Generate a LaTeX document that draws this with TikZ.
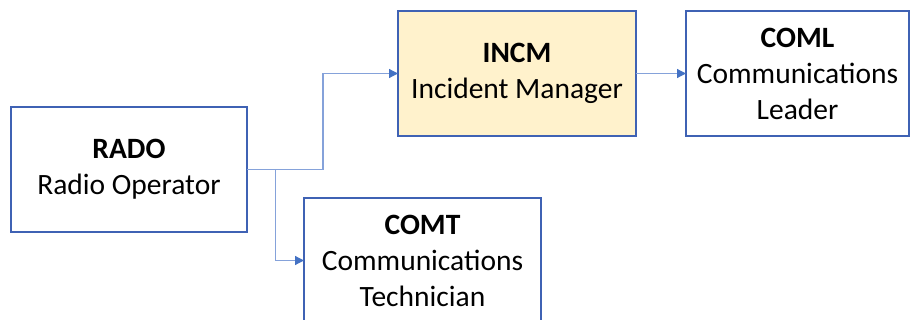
\documentclass[tikz,border=0pt]{standalone}
\usepackage{fontspec}
\setmainfont{Carlito}
\usetikzlibrary{arrows.meta}

\definecolor{boxline}{HTML}{3F62B4}
\definecolor{wireline}{HTML}{85A2DA}
\definecolor{tipfill}{HTML}{4472C4}
\definecolor{leadfill}{HTML}{FFF2CC}

\tikzset{
  rolebox/.style={draw=boxline, line width=1.3pt, fill=white, rectangle,
    minimum height=125pt, inner sep=0pt, outer sep=0pt, align=center,
    font=\fontsize{29.5}{36}\selectfont},
  wire/.style={draw=wireline, line width=1.2pt,
    -{Triangle[length=9pt, width=9pt, fill=tipfill, color=tipfill]}},
  plainwire/.style={draw=wireline, line width=1.2pt}
}

\begin{document}
\begin{tikzpicture}[x=1pt, y=-1pt]
  \useasboundingbox (0,0) rectangle (910,320);

  % role boxes
  \node[rolebox, minimum width=236pt] (rado) at (129,169.5)
    {\textbf{RADO}\\Radio Operator};
  \node[rolebox, minimum width=238pt, fill=leadfill] (incm) at (517,73.5)
    {\textbf{INCM}\\Incident Manager};
  \node[rolebox, minimum width=223pt] (coml) at (797.5,73.5)
    {\textbf{COML}\\Communications\\Leader};
  \node[rolebox, minimum width=237pt] (comt) at (422.5,260.5)
    {\textbf{COMT}\\Communications\\Technician};

  % routing points of the elbow connectors
  \coordinate (split) at (275.5,169.5);
  \coordinate (riser) at (323,169.5);

  % connectors
  \draw[plainwire] (rado.east) -- (split);
  \draw[wire] (split) -- (riser) |- (incm.west);
  \draw[wire] (split) |- (comt.west);
  \draw[wire] (incm.east) -- (coml.west);
\end{tikzpicture}
\end{document}
